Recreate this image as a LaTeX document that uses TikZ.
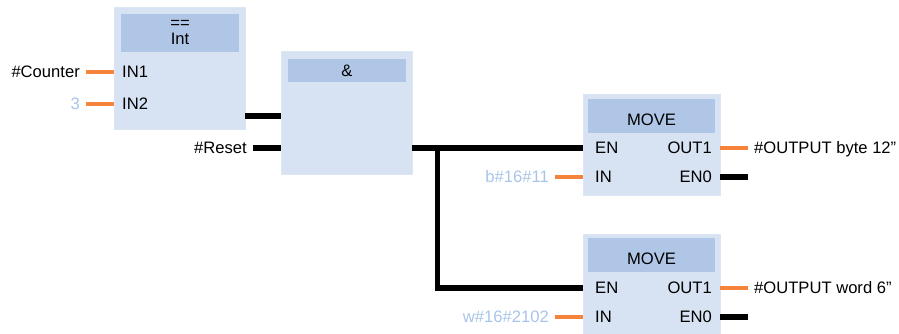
\documentclass[tikz,border=0pt]{standalone}
\usepackage{fontspec}
\setmainfont{Liberation Sans}
\definecolor{blkfill}{HTML}{D7E2F2}
\definecolor{blkedge}{HTML}{DCE6F4}
\definecolor{hdrfill}{HTML}{B0C6E6}
\definecolor{wireorange}{HTML}{F5843A}
\definecolor{constblue}{HTML}{A8C4EA}
\newcommand{\fbdfont}{\fontsize{16.6}{16.6}\selectfont}
\tikzset{
  blk/.style={draw=blkedge, fill=blkfill, line width=0.6pt, inner sep=0pt, anchor=north west},
  hdr/.style={fill=hdrfill, draw=none, inner sep=0pt, anchor=north west},
  lbl/.style={font=\fbdfont, inner sep=0pt, text=black},
  cst/.style={lbl, text=constblue},
  ow/.style={draw=wireorange, line width=4pt},
  bw/.style={draw=black, line width=5.5pt},
}
\begin{document}
\begin{tikzpicture}[x=1pt,y=-1pt]
\useasboundingbox (0,0) rectangle (899,333);
\begin{scope}
\clip (0,0) rectangle (899,333);
% block 1: == Int
\node[blk, minimum width=131, minimum height=122] (b1) at (114,7) {};
\node[hdr, minimum width=118, minimum height=38] (h1) at (121,14) {};
\node[lbl, anchor=base] (eq) at (180,28) {==};
\node[lbl, anchor=base] (int) at (180,44) {Int};
\node[lbl, anchor=base west] (in1) at (122,77.8) {IN1};
\node[lbl, anchor=base west] (in2) at (122,109.8) {IN2};
\node[lbl, anchor=base east] (cnt) at (80,77.8) {\#Counter};
\node[cst, anchor=base east] (three) at (80,109.8) {3};
\coordinate (cntw) at (86,72);
\coordinate (thrw) at (86,104);
\coordinate (b1p1) at (114,72);
\coordinate (b1p2) at (114,104);
\coordinate (b1o) at (245,116);
% block 2: &
\node[blk, minimum width=131, minimum height=123] (b2) at (281,51) {};
\node[hdr, minimum width=118, minimum height=23] (h2) at (288,59) {};
\node[lbl, anchor=base] (amp) at (347,76) {\&};
\node[lbl, anchor=base east] (rst) at (247,153.8) {\#Reset};
\coordinate (rstw) at (253,148);
\coordinate (b2i1) at (281,116);
\coordinate (b2i2) at (281,148);
\coordinate (b2o) at (412,148);
\coordinate (jn) at (437.5,148);
\coordinate (jd) at (437.5,288);
% MOVE 1
\node[blk, minimum width=137, minimum height=101] (m1) at (583,94) {};
\node[hdr, minimum width=127, minimum height=34] (hm1) at (588,99) {};
\node[lbl, anchor=base] (mv1) at (651.5,125) {MOVE};
\node[lbl, anchor=base west] (en1) at (595,153.8) {EN};
\node[lbl, anchor=base east] (out1a) at (712,153.8) {OUT1};
\node[lbl, anchor=base west] (inA) at (595,182.8) {IN};
\node[lbl, anchor=base east] (enoA) at (712,182.8) {EN0};
\node[cst, anchor=base east] (bval) at (549,182.8) {b\#16\#11};
\node[lbl, anchor=base west] (obyte) at (754,153.8) {\#OUTPUT byte 12"};
\coordinate (m1en) at (583,148);
\coordinate (m1in) at (583,177);
\coordinate (bvw) at (555,177);
\coordinate (m1out) at (720,148);
\coordinate (m1eno) at (720,177);
\coordinate (obw) at (748,148);
\coordinate (enAw) at (748,177);
% MOVE 2
\node[blk, minimum width=137, minimum height=102] (m2) at (583,234) {};
\node[hdr, minimum width=127, minimum height=34] (hm2) at (588,238) {};
\node[lbl, anchor=base] (mv2) at (651.5,264) {MOVE};
\node[lbl, anchor=base west] (en2) at (595,293.8) {EN};
\node[lbl, anchor=base east] (out1b) at (712,293.8) {OUT1};
\node[lbl, anchor=base west] (inB) at (595,322.8) {IN};
\node[lbl, anchor=base east] (enoB) at (712,322.8) {EN0};
\node[cst, anchor=base east] (wval) at (549,322.8) {w\#16\#2102};
\node[lbl, anchor=base west] (oword) at (754,293.8) {\#OUTPUT word 6"};
\coordinate (m2en) at (583,288);
\coordinate (m2in) at (583,317);
\coordinate (wvw) at (555,317);
\coordinate (m2out) at (720,288);
\coordinate (m2eno) at (720,317);
\coordinate (owd) at (748,288);
\coordinate (enBw) at (748,317);
% wires
\draw[ow] (cntw) -- (b1p1);
\draw[ow] (thrw) -- (b1p2);
\draw[bw] (b1o) -- (b2i1);
\draw[bw] (rstw) -- (b2i2);
\draw[bw] (b2o) -- (m1en);
\draw[bw, line join=miter] (jn) -- (jd) -- (m2en);
\draw[ow] (bvw) -- (m1in);
\draw[ow] (m1out) -- (obw);
\draw[bw] (m1eno) -- (enAw);
\draw[ow] (wvw) -- (m2in);
\draw[ow] (m2out) -- (owd);
\draw[bw] (m2eno) -- (enBw);
\end{scope}
\end{tikzpicture}
\end{document}
